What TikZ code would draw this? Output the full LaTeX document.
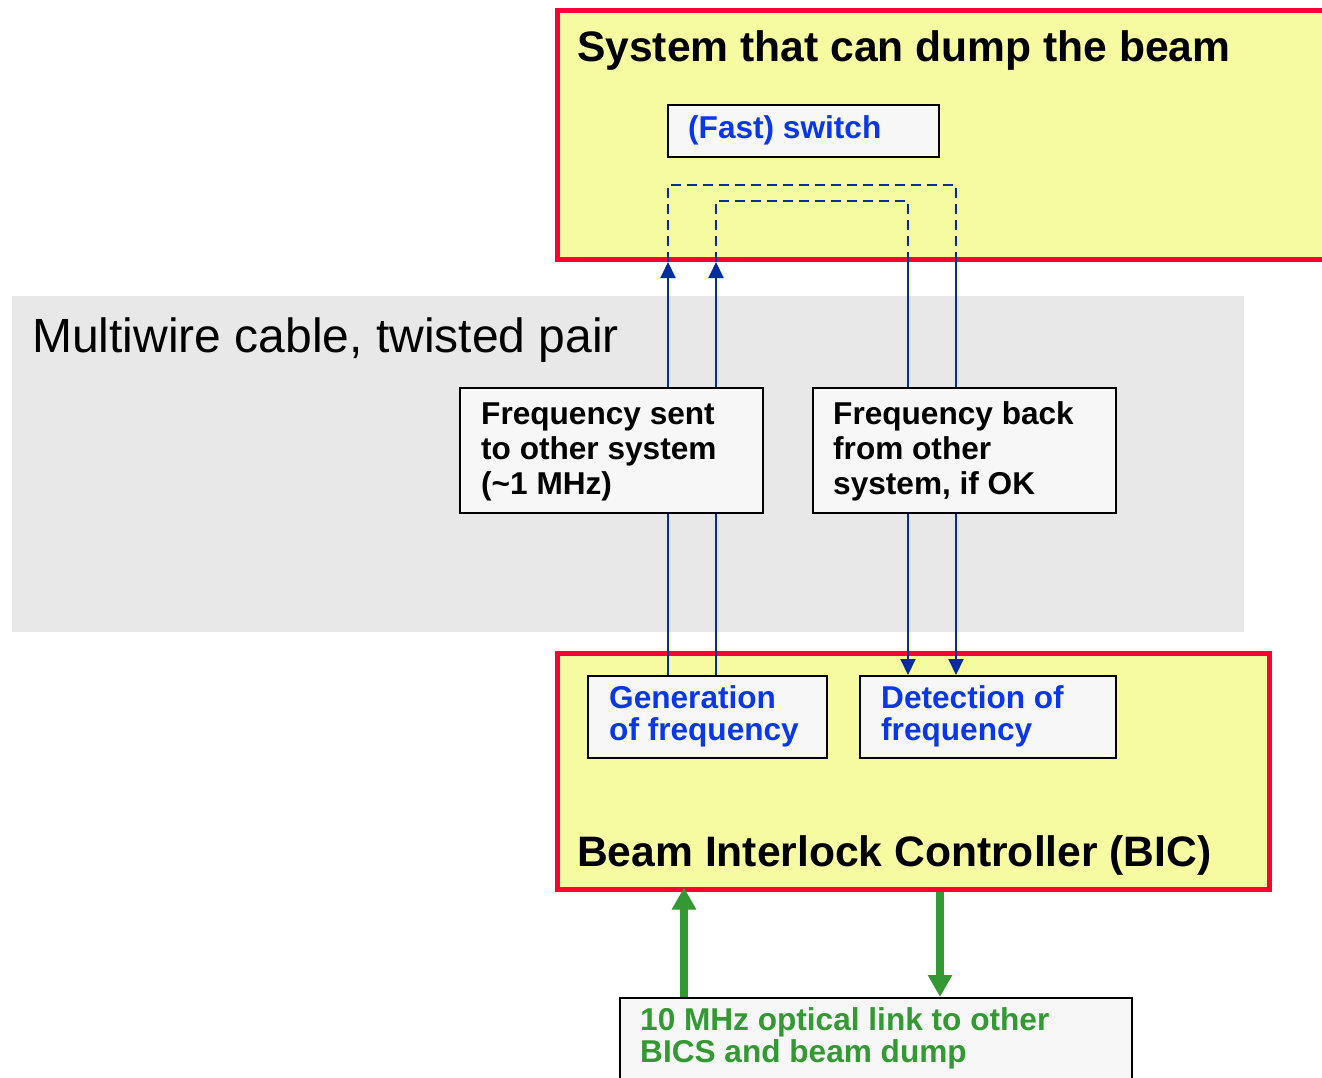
\documentclass[tikz,border=0pt]{standalone}
\usepackage{fontspec}
\setmainfont{Liberation Sans}
\usetikzlibrary{arrows.meta}
\definecolor{redc}{RGB}{255,0,51}
\definecolor{yellowc}{RGB}{246,250,160}
\definecolor{boxc}{RGB}{247,247,247}
\definecolor{grayc}{RGB}{232,232,232}
\definecolor{navyc}{RGB}{0,45,160}
\definecolor{tblue}{RGB}{10,55,235}
\definecolor{greenc}{RGB}{51,153,51}
\newcommand\mlines[1]{\begin{tabular}[t]{@{}l@{}}#1\end{tabular}}
\begin{document}
\begin{tikzpicture}[x=1pt,y=-1pt,
  bigbox/.style={draw=redc, line width=5pt, fill=yellowc, inner sep=0pt, anchor=north west},
  whitebox/.style={draw=black, line width=2pt, fill=boxc, inner sep=0pt, anchor=north west},
  bigtxt/.style={anchor=base west, inner sep=0pt, font=\fontsize{42.6}{46}\selectfont\bfseries},
  txt/.style={anchor=base west, inner sep=0pt, font=\fontsize{31.6}{35}\selectfont\bfseries},
  txtb/.style={txt, font=\fontsize{31.6}{32}\selectfont\bfseries},
  wire/.style={draw=navyc, line width=2pt},
  wirearrow/.style={wire, -{Triangle[length=16pt,width=15pt]}},
  dashwire/.style={wire, dash pattern=on 10pt off 6pt},
  greenarrow/.style={draw=greenc, line width=8pt, -{Triangle[length=22pt,width=23pt]}}
]
\useasboundingbox (0,0) rectangle (1322,1077);
\clip (0,0) rectangle (1322,1077);
\fill[white] (0,0) rectangle (1322,1077);

% grey cable band
\node[fill=grayc, inner sep=0pt, outer sep=0pt, anchor=north west, minimum width=1232pt, minimum height=336pt] (cable) at (12,296) {};
\node[anchor=base west, inner sep=0pt, font=\fontsize{48}{52}\selectfont] (cabletxt) at (32,352) {Multiwire cable, twisted pair};

% big boxes
\node[bigbox, minimum width=780pt, minimum height=249pt] (sys) at (555,8) {};
\node[bigtxt] (systxt) at (577,61) {System that can dump the beam};
\node[bigbox, minimum width=711.5pt, minimum height=235.5pt] (bic) at (555,651) {};
\node[bigtxt] (bictxt) at (577,866) {Beam Interlock Controller (BIC)};

% coordinates for wire columns
\coordinate (x1) at (668,0);
\coordinate (x2) at (716,0);
\coordinate (x3) at (908,0);
\coordinate (x4) at (956,0);
\coordinate (d1) at (668,185);
\coordinate (d2) at (716,201);
\coordinate (g1) at (684,0);
\coordinate (g2) at (940,0);

% small boxes (positions needed for wires)
\node[whitebox, minimum width=239pt, minimum height=82pt] (gen) at (587,675) {};
\node[whitebox, minimum width=256pt, minimum height=82pt] (det) at (859,675) {};

% wires
\draw[wirearrow] (gen.north -| x1) -- (sys.south -| x1);
\draw[wirearrow] (gen.north -| x2) -- (sys.south -| x2);
\draw[wirearrow] (sys.south -| x3) -- (det.north -| x3);
\draw[wirearrow] (sys.south -| x4) -- (det.north -| x4);
\draw[dashwire] (sys.south -| x1) -- (d1) -| (sys.south -| x4);
\draw[dashwire] (sys.south -| x2) -- (d2) -| (sys.south -| x3);

% boxes on top of wires
\node[whitebox, minimum width=271pt, minimum height=52pt] (sw) at (667,104) {};
\node[txt, text=tblue] (swtxt) at (688,138) {(Fast) switch};

\node[whitebox, minimum width=303pt, minimum height=125pt] (fs) at (459,387) {};
\node[txt] (fstxt) at (481,424) {\mlines{Frequency sent\\to other system\\(\textasciitilde1 MHz)}};

\node[whitebox, minimum width=303pt, minimum height=125pt] (fb) at (812,387) {};
\node[txt] (fbtxt) at (833,424) {\mlines{Frequency back\\from other\\system, if OK}};

\node[txtb, text=tblue] (gentxt) at (609,708) {\mlines{Generation\\of frequency}};
\node[txtb, text=tblue] (dettxt) at (881,708) {\mlines{Detection of\\frequency}};

% optical link box
\node[whitebox, minimum width=512pt, minimum height=200pt] (link) at (619,997) {};
\node[txtb, text=greenc] (linktxt) at (640,1030) {\mlines{10 MHz optical link to other\\BICS and beam dump}};

% green arrows
\draw[greenarrow, shorten >=-4pt] (link.north -| g1) -- (bic.south -| g1);
\draw[greenarrow] (bic.south -| g2) -- (link.north -| g2);
\end{tikzpicture}
\end{document}
